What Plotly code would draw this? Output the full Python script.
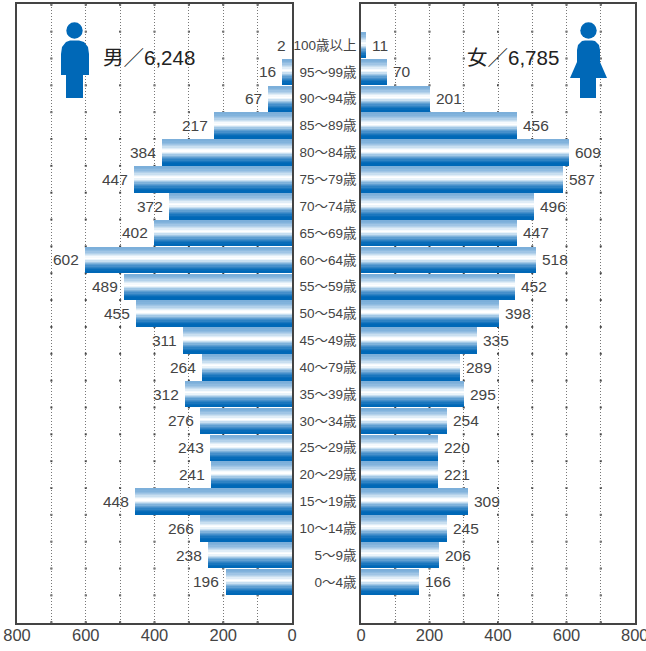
import plotly.graph_objects as go

W, H = 646, 651
categories = ["0〜4歳","5〜9歳","10〜14歳","15〜19歳","20〜29歳","25〜29歳","30〜34歳","35〜39歳","40〜79歳","45〜49歳",
              "50〜54歳","55〜59歳","60〜64歳","65〜69歳","70〜74歳","75〜79歳","80〜84歳","85〜89歳","90〜94歳","95〜99歳","100歳以上"]
# printed values
male = [196,238,266,448,241,243,276,312,264,311,455,489,602,402,372,447,384,217,67,16,2]
female = [166,206,245,309,221,220,254,295,289,335,398,452,518,447,496,587,609,456,201,70,11]
# bar lengths as actually drawn in the picture, read against the axis
male_drawn = [193,243,267,456,235,238,267,310,261,316,453,488,601,401,357,459,377,226,69,28,0]
female_drawn = [168,227,250,312,224,224,250,300,288,338,402,449,510,456,504,589,606,455,202,77,15]
tick_vals = [0,200,400,600,800]
grid_vals = [100,200,300,400,500,600,700]
male_title = "男／6,248"
female_title = "女／6,785"

FONT = "Liberation Sans, Noto Sans CJK JP, sans-serif"
BLUE = "#0068b7"
band_colors = ["#0068b7","#0068b7","#086cb9","#1a76be","#2f83c4","#468fcb","#5f9fd2","#7fb2db","#a2c8e6","#c8dff1",
               "#ebf4fa","#ffffff","#f6fafd","#e0edf7","#c9dff0","#b3d1ea","#a0c5e5","#8fbbe0","#82b3dc","#7cafda"]
BAR_SPAN = 0.96
n = len(band_colors)
band = BAR_SPAN / n

fig = go.Figure()
for i, c in enumerate(band_colors):
    off = -BAR_SPAN/2 + i*band
    common = dict(y=categories, orientation="h", width=band*1.06 if i < n-1 else band, offset=off,
                  marker=dict(color=c, line_width=0), hoverinfo="skip", showlegend=False)
    fig.add_trace(go.Bar(x=male_drawn, xaxis="x", yaxis="y", **common))
    fig.add_trace(go.Bar(x=female_drawn, xaxis="x2", yaxis="y2", **common))

for cat, m, md, f, fd in zip(categories, male, male_drawn, female, female_drawn):
    fig.add_annotation(x=md, y=cat, xref="x", yref="y", text=str(m), showarrow=False, xanchor="right",
                       xshift=-4.5, font=dict(size=15.5, color="#444444", family=FONT))
    fig.add_annotation(x=fd, y=cat, xref="x2", yref="y2", text=str(f), showarrow=False, xanchor="left",
                       xshift=4, font=dict(size=15.5, color="#444444", family=FONT))

px = lambda v: v / W
py = lambda v: 1 - v / H
fig.add_annotation(x=px(101), y=py(58), xref="paper", yref="paper", text=male_title, showarrow=False,
                   xanchor="left", yanchor="middle", font=dict(size=20.5, color="#222222", family=FONT))
fig.add_annotation(x=px(465), y=py(58), xref="paper", yref="paper", text=female_title, showarrow=False,
                   xanchor="left", yanchor="middle", font=dict(size=20.5, color="#222222", family=FONT))
# the right-hand 800 runs past the page edge, so the axis drops it
fig.add_annotation(x=tick_vals[-1], xref="x2", y=py(635), yref="paper", text=str(tick_vals[-1]), showarrow=False,
                   xanchor="center", yanchor="middle", font=dict(size=16.5, color="#444444", family=FONT))

# darker dots where the dotted grid meets each row boundary
for xr, yr in (("x", "y"), ("x2", "y2")):
    for g in grid_vals:
        for k in range(-2, 22):
            fig.add_shape(type="rect", xref=xr, yref=yr, layer="below", xsizemode="pixel", ysizemode="pixel",
                          xanchor=g, yanchor=k + 0.5, x0=-1, x1=1, y0=-1, y1=1, fillcolor="#444444", line_width=0)

# person icons (decoration, pixel positions)
def path(pts):
    return "M " + " L ".join(f"{px(x)} {py(y)}" for x, y in pts) + " Z"
def circle(cx, cy, r):
    fig.add_shape(type="circle", xref="paper", yref="paper", x0=px(cx-r), x1=px(cx+r), y0=py(cy+r), y1=py(cy-r),
                  fillcolor=BLUE, line_width=0)
def poly(pts):
    fig.add_shape(type="path", xref="paper", yref="paper", path=path(pts), fillcolor=BLUE, line_width=0)
circle(74.5, 30.5, 8.2)
poly([(61,75),(61,54),(62,47),(66,42),(70,40.5),(79,40.5),(84,42),(88,47),(89,54),(89,75),(83,75),(83,98),(66,98),(66,75)])
circle(588.5, 30.5, 8.2)
poly([(570,78),(577,62),(577,50),(578,45),(582,41),(585,40.5),(592,40.5),(595,41),(599,45),(600,50),(600,62),(607,78),(596,78),(596,98),(580,98),(580,78)])

axis = dict(tickvals=tick_vals, ticks="", ticklabelstandoff=-4, showline=True, linewidth=1.5, linecolor="#444444", mirror=True,
            automargin=False, showgrid=True, gridcolor="#777777", griddash="1px,2px", gridwidth=1, zeroline=False,
            tickfont=dict(size=16.5, color="#444444", family=FONT),
            minor=dict(tickvals=grid_vals, showgrid=True, gridcolor="#777777", griddash="1px,2px", gridwidth=1))
yaxis = dict(type="category", categoryorder="array", categoryarray=categories, range=[-1.53, 21.53], automargin=False,
             showgrid=False, zeroline=False, showline=True, linewidth=1.5, linecolor="#444444", mirror=True, ticks="")
fig.update_layout(
    width=W, height=H, autosize=False, margin=dict(l=0, r=0, t=0, b=0, autoexpand=False),
    paper_bgcolor="white", plot_bgcolor="white", barmode="overlay", bargap=0, showlegend=False,
    xaxis=dict(domain=[px(17), px(292)], range=[800, 0], anchor="y", **axis),
    xaxis2=dict(domain=[px(361), px(635)], range=[0, 800], anchor="y2", **axis),
    yaxis=dict(domain=[py(623), py(4)], anchor="x", showticklabels=False, **yaxis),
    yaxis2=dict(domain=[py(623), py(4)], anchor="x2", showticklabels=True,
                tickfont=dict(size=13.5, color="#444444", family=FONT), **yaxis),
)
fig.write_html("out.html", post_script="document.body.style.margin='0';document.body.style.overflow='hidden';",
               config={"displayModeBar": False})
